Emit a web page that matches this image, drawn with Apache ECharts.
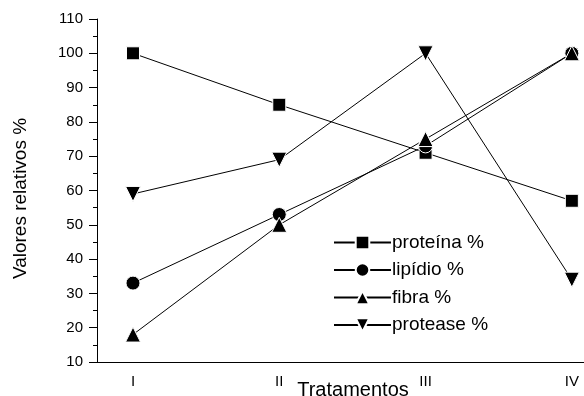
<!DOCTYPE html>
<html>
<head>
<meta charset="utf-8">
<script src="https://cdn.jsdelivr.net/npm/echarts@6/dist/echarts.min.js"></script>
<style>html,body{margin:0;padding:0;background:#fff}#c{width:584px;height:396px}</style>
</head>
<body>
<div id="c"></div>
<script>
const categories = ['I', 'II', 'III', 'IV'];
const xPositions = [1, 2, 3, 4];
const proteina = [100, 85, 71, 57];
const lipidio = [33, 53, 73, 100];
const fibra = [18, 50, 75, 100];
const protease = [59, 69, 100, 34];
const seriesNames = ['proteína %', 'lipídio %', 'fibra %', 'protease %'];
const yTicks = [10, 20, 30, 40, 50, 60, 70, 80, 90, 100, 110];

const font = '"Liberation Sans", Arial, sans-serif';
const chart = echarts.init(document.getElementById('c'), null, {renderer: 'canvas'});

function pts(vals) { return vals.map((v, i) => [xPositions[i], v]); }
function mk(name, vals, symbol, size, rotate) {
  return {
    name: name, type: 'line', data: pts(vals),
    symbol: symbol, symbolSize: size, symbolRotate: rotate || 0,
    showAllSymbol: true,
    lineStyle: {color: '#000', width: 1},
    itemStyle: {color: '#000', borderColor: '#fff', borderWidth: 1},
    emphasis: {disabled: true},
    animation: false, z: 3
  };
}

chart.setOption({
  animation: false,
  backgroundColor: '#fff',
  grid: {left: 97, right: 0, top: 19, bottom: 34, containLabel: false, outerBoundsMode: 'none'},
  xAxis: {
    type: 'value', min: 0.754, max: 4.083,
    splitLine: {show: false},
    axisLine: {show: true, lineStyle: {color: '#000', width: 1}},
    axisTick: {show: false},
    axisLabel: {
      customValues: xPositions,
      formatter: v => categories[xPositions.indexOf(Math.round(v))] || '',
      color: '#000', fontFamily: font, fontSize: 15, margin: 12
    },
    name: 'Tratamentos', nameLocation: 'middle', nameGap: 18, nameMoveOverlap: false,
    nameTextStyle: {color: '#000', fontFamily: font, fontSize: 20, padding: [0, 0, 0, 25]}
  },
  yAxis: {
    type: 'value', min: 10, max: 110, interval: 10,
    splitLine: {show: false},
    axisLine: {show: true, lineStyle: {color: '#000', width: 1}},
    axisTick: {show: true, length: 8, lineStyle: {color: '#000', width: 1}},
    minorTick: {show: true, splitNumber: 2, length: 4, lineStyle: {color: '#000', width: 1}},
    axisLabel: {color: '#000', fontFamily: font, fontSize: 15, margin: 14,
      formatter: v => yTicks.indexOf(v) >= 0 ? String(v) : ''},
    name: 'Valores relativos %', nameLocation: 'middle', nameGap: 67,
    nameTextStyle: {color: '#000', fontFamily: font, fontSize: 19, padding: [0, 16, 0, 0]}
  },
  legend: {
    left: 328, top: 228, orient: 'vertical',
    itemWidth: 57, itemHeight: 17, itemGap: 8.5,
    textStyle: {color: '#000', fontFamily: font, fontSize: 19, padding: [0, 0, 0, -4]},
    data: seriesNames
  },
  series: [
    mk(seriesNames[0], proteina, 'rect', 13),
    mk(seriesNames[1], lipidio, 'circle', 14),
    mk(seriesNames[2], fibra, 'triangle', 15),
    mk(seriesNames[3], protease, 'triangle', 15, 180)
  ]
});
</script>
</body>
</html>
